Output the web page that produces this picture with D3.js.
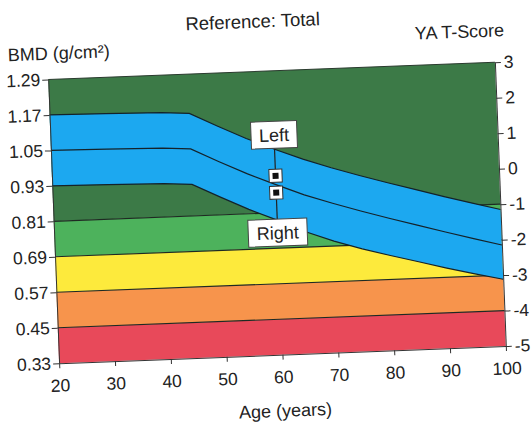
<!DOCTYPE html>
<html>
<head>
<meta charset="utf-8">
<script src="https://cdn.jsdelivr.net/npm/d3@7"></script>
<style>
  html, body { margin: 0; padding: 0; background: #fff; }
  svg { display: block; }
  text { font-family: Arial, "Liberation Sans", Helvetica, sans-serif; fill: #222; }
</style>
</head>
<body>
<svg id="chart" width="532" height="422"></svg>
<script>
// ---- data ----
const ages      = [20, 30, 40, 45, 50, 55, 60, 65, 70, 75, 80, 85, 90, 95, 100];
const refUpper  = [1.17, 1.167, 1.163, 1.157, 1.11, 1.065, 1.025, 0.988, 0.955, 0.925, 0.897, 0.87, 0.843, 0.817, 0.792];
const refMean   = [1.05, 1.047, 1.043, 1.037, 0.99, 0.945, 0.905, 0.867, 0.835, 0.805, 0.777, 0.75, 0.723, 0.697, 0.672];
const refLower  = [0.93, 0.927, 0.923, 0.917, 0.87, 0.825, 0.785, 0.742, 0.707, 0.677, 0.651, 0.626, 0.601, 0.578, 0.556];

const zoneTop    = [1.29, 0.81, 0.69, 0.57, 0.45];
const zoneBottom = [0.81, 0.69, 0.57, 0.45, 0.33];
const zoneColor  = ["#3c7a47", "#4db25c", "#fdea3c", "#f7944c", "#e8495a"];

const sites    = ["Left", "Right"];
const siteAge  = [60, 60];
const siteBmd  = [0.935, 0.878];

const bmdTicks  = [0.33, 0.45, 0.57, 0.69, 0.81, 0.93, 1.05, 1.17, 1.29];
const tTicks    = [-5, -4, -3, -2, -1, 0, 1, 2, 3];
const ageTicks  = [20, 30, 40, 50, 60, 70, 80, 90, 100];

const title  = "Reference: Total";
const yTitle = "BMD (g/cm²)";
const y2Title = "YA T-Score";
const xTitle = "Age (years)";

// ---- layout ----
const L = 53.5, R = 500.5, T = 70.75, B = 354.75;
const x  = d3.scaleLinear().domain([20, 100]).range([L, R]);
const y  = d3.scaleLinear().domain([0.33, 1.29]).range([B, T]);
const yT = d3.scaleLinear().domain([-5, 3]).range([B, T]);

const svg = d3.select("#chart");
const g = svg.append("g").attr("transform", "rotate(-2.2, 277, 213)");

// zones
const zones = zoneTop.map((t, i) => ({ top: t, bottom: zoneBottom[i], color: zoneColor[i] }));
g.selectAll("rect.zone").data(zones).join("rect")
  .attr("class", "zone")
  .attr("x", x(20)).attr("width", x(100) - x(20))
  .attr("y", d => y(d.top)).attr("height", d => y(d.bottom) - y(d.top))
  .attr("fill", d => d.color);
g.selectAll("line.zoneline").data(zoneBottom.slice(0, 4)).join("line")
  .attr("class", "zoneline")
  .attr("x1", x(20)).attr("x2", x(100))
  .attr("y1", d => y(d)).attr("y2", d => y(d))
  .attr("stroke", "#1e2a22").attr("stroke-width", 1.1);

// reference band
const pts = ages.map((a, i) => ({ a, u: refUpper[i], m: refMean[i], l: refLower[i] }));
const area = d3.area().x(d => x(d.a)).y0(d => y(d.l)).y1(d => y(d.u));
g.append("path").datum(pts).attr("d", area).attr("fill", "#1ca8f0");
["u", "m", "l"].forEach(k => {
  g.append("path").datum(pts)
    .attr("d", d3.line().x(d => x(d.a)).y(d => y(d[k])))
    .attr("fill", "none").attr("stroke", "#14222a").attr("stroke-width", 1.2);
});

// frame edges
g.append("line").attr("x1", L).attr("x2", R).attr("y1", T).attr("y2", T)
  .attr("stroke", "#2a3a2e").attr("stroke-width", 1);

// axes
const fmtPlain = d => String(d);
const axL = g.append("g").attr("transform", `translate(${L},0)`)
  .call(d3.axisLeft(y).tickValues(bmdTicks).tickFormat(d3.format(".2f")).tickSize(6).tickSizeOuter(0).tickPadding(2));
const axR = g.append("g").attr("transform", `translate(${R},0)`)
  .call(d3.axisRight(yT).tickValues(tTicks).tickFormat(fmtPlain).tickSize(6).tickSizeOuter(0).tickPadding(3));
const axB = g.append("g").attr("transform", `translate(0,${B})`)
  .call(d3.axisBottom(x).tickValues(ageTicks).tickFormat(fmtPlain).tickSize(5).tickSizeOuter(0).tickPadding(11));
[axL, axR, axB].forEach(ax => {
  ax.selectAll("path.domain").attr("stroke", "#333");
  ax.selectAll(".tick line").attr("stroke", "#333");
  ax.selectAll(".tick text").attr("font-size", 17.5).attr("fill", "#222")
    .attr("font-family", "Arial, 'Liberation Sans', sans-serif");
});

// titles
g.append("text").attr("x", 260).attr("y", 27).attr("text-anchor", "middle")
  .attr("font-size", 18.5).text(title);
g.append("text").attr("x", 14).attr("y", 51).attr("text-anchor", "start")
  .attr("font-size", 18).text(yTitle);
g.append("text").attr("x", 511).attr("y", 45).attr("text-anchor", "end")
  .attr("font-size", 18).text(y2Title);
g.append("text").attr("x", 278).attr("y", 417).attr("text-anchor", "middle")
  .attr("font-size", 18).text(xTitle);

// patient markers with labels
const marks = sites.map((s, i) => ({ s, a: siteAge[i], b: siteBmd[i], up: i === 0 }));
marks.forEach(d => {
  const cx = x(d.a), cy = y(d.b);
  const bw = d.up ? 46 : 59, bh = 27;
  const by = d.up ? cy - 41 : cy + 40;
  // connector
  g.append("line").attr("x1", cx).attr("x2", cx)
    .attr("y1", d.up ? by + bh / 2 : cy + 6)
    .attr("y2", d.up ? cy - 6 : by - bh / 2)
    .attr("stroke", "#222").attr("stroke-width", 1.2);
  // label box
  g.append("rect").attr("x", cx - bw / 2).attr("y", by - bh / 2)
    .attr("width", bw).attr("height", bh)
    .attr("fill", "#fff").attr("stroke", "#444").attr("stroke-width", 1);
  g.append("text").attr("x", cx).attr("y", by + 6.5).attr("text-anchor", "middle")
    .attr("font-size", 18).text(d.s);
  // marker
  g.append("rect").attr("x", cx - 6.5).attr("y", cy - 6.5).attr("width", 13).attr("height", 13)
    .attr("fill", "#fff").attr("stroke", "#333").attr("stroke-width", 1);
  g.append("rect").attr("x", cx - 3).attr("y", cy - 3).attr("width", 6).attr("height", 6)
    .attr("fill", "#111");
});
</script>
</body>
</html>
